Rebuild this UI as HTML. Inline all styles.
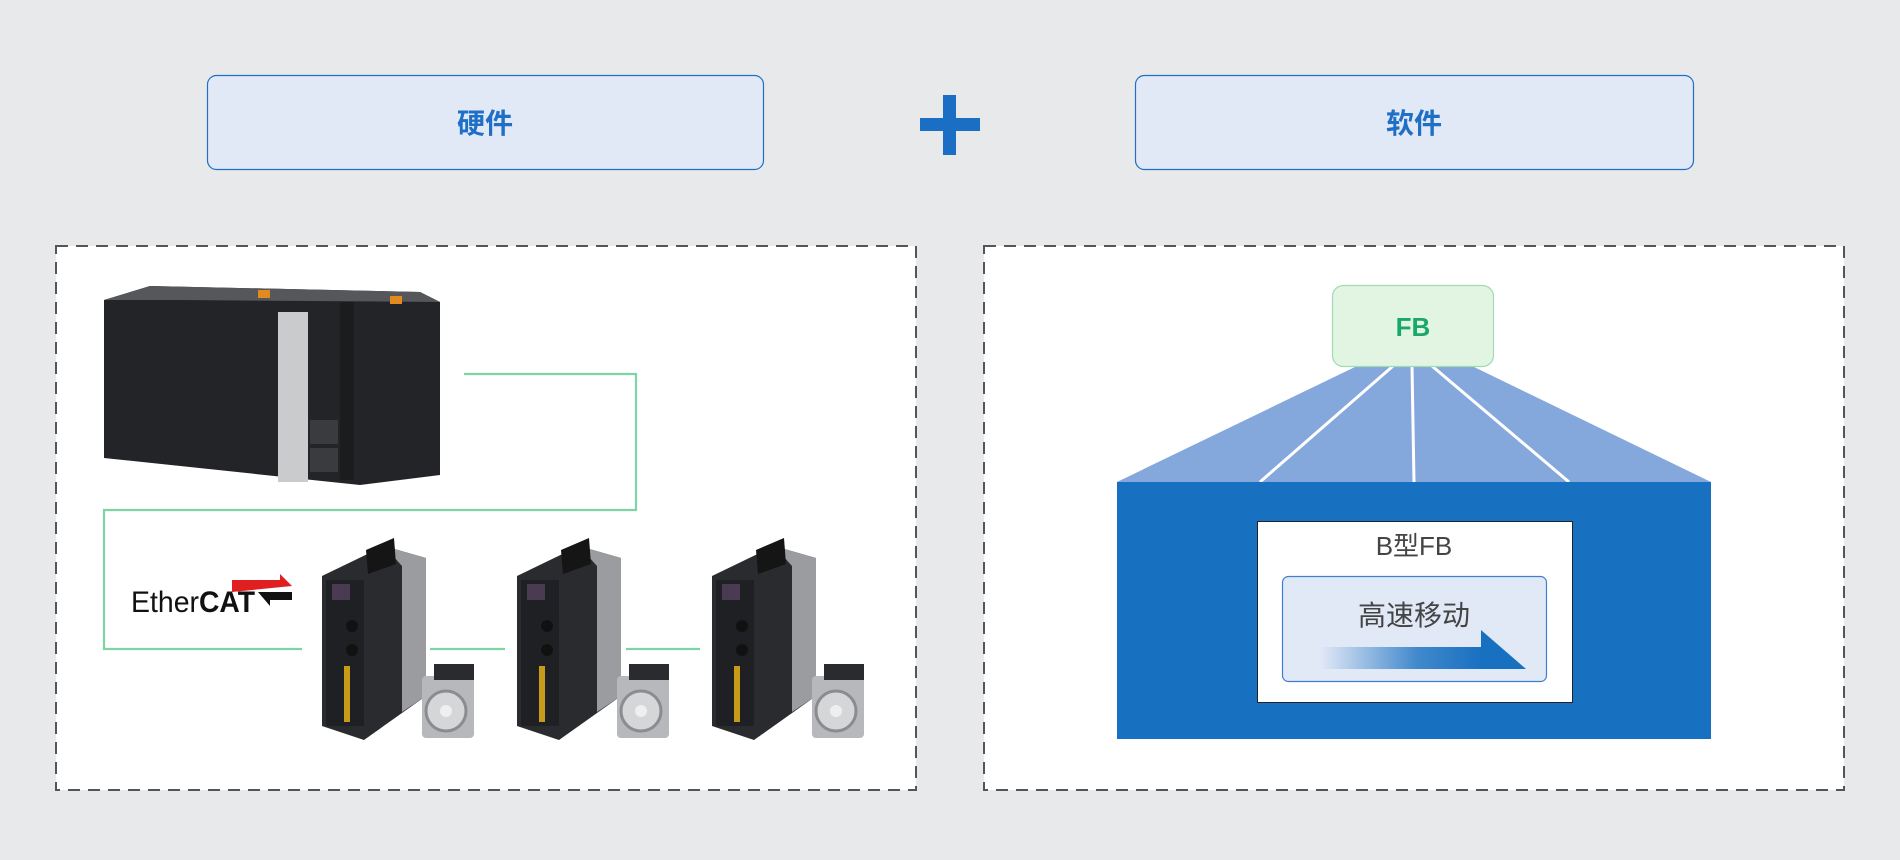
<!DOCTYPE html>
<html><head><meta charset="utf-8"><style>
html,body{margin:0;padding:0;background:#e8e9eb;}
svg{display:block}
text{font-family:"Liberation Sans","Noto Sans CJK SC",sans-serif}
</style></head><body>
<svg width="1900" height="860" viewBox="0 0 1900 860" xmlns="http://www.w3.org/2000/svg">
<defs>
<linearGradient id="ag" x1="0" x2="1" y1="0" y2="0">
<stop offset="0" stop-color="#1870c1" stop-opacity="0"/>
<stop offset="0.6" stop-color="#1870c1" stop-opacity="0.8"/>
<stop offset="1" stop-color="#1870c1"/>
</linearGradient>
<g id="drive">
<polygon points="0,30 62,0 104,12 104,150 42,194 0,180" fill="#2a2b2e"/>
<polygon points="62,0 104,12 104,150 80,166 80,20" fill="#9a9ca0"/>
<polygon points="44,4 72,-8 74,18 46,28" fill="#151515"/>
<rect x="4" y="34" width="38" height="146" fill="#1f2023"/>
<rect x="10" y="38" width="18" height="16" fill="#4a3a52"/>
<rect x="22" y="120" width="6" height="56" fill="#c89a1a"/>
<circle cx="30" cy="80" r="6" fill="#111"/>
<circle cx="30" cy="104" r="6" fill="#111"/>
<rect x="100" y="130" width="52" height="62" rx="4" fill="#b6b8bb"/>
<rect x="112" y="118" width="40" height="16" fill="#2a2b2e"/>
<circle cx="124" cy="165" r="20" fill="#d4d6d8" stroke="#8a8c90" stroke-width="3"/>
<circle cx="124" cy="165" r="6" fill="#efefef"/>
</g>
</defs>

<!-- top boxes -->
<rect x="207.5" y="75.5" width="556" height="94" rx="9" fill="#e1e8f6" stroke="#1e6fc5" stroke-width="1.2"/>
<text x="485" y="133" text-anchor="middle" font-size="28" font-weight="bold" fill="#1e6fc5">硬件</text>
<rect x="1135.5" y="75.5" width="558" height="94" rx="9" fill="#e1e8f6" stroke="#1e6fc5" stroke-width="1.2"/>
<text x="1414" y="133" text-anchor="middle" font-size="28" font-weight="bold" fill="#1e6fc5">软件</text>
<rect x="920" y="118" width="60" height="13" fill="#1a6fc4"/>
<rect x="943" y="95" width="13" height="60" fill="#1a6fc4"/>

<!-- dashed boxes -->
<rect x="56" y="246" width="860" height="544" fill="#fff" stroke="#555" stroke-width="2" stroke-dasharray="12,8"/>
<rect x="984" y="246" width="860" height="544" fill="#fff" stroke="#555" stroke-width="2" stroke-dasharray="12,8"/>

<!-- PLC -->
<polygon points="104,300 150,286 420,292 440,302 440,475 360,485 104,458" fill="#232427"/>
<polygon points="104,300 150,286 420,292 440,302 180,300" fill="#55575b"/>
<rect x="278" y="312" width="30" height="170" fill="#c9cbcc"/>
<rect x="340" y="302" width="14" height="178" fill="#1b1c1e"/>
<rect x="310" y="420" width="28" height="24" fill="#3a3b3e"/>
<rect x="310" y="448" width="28" height="24" fill="#3a3b3e"/>
<rect x="258" y="290" width="12" height="8" fill="#e08a20"/>
<rect x="390" y="296" width="12" height="8" fill="#e08a20"/>

<!-- green network lines -->
<polyline points="464,374 636,374 636,510 104,510 104,649 302,649" fill="none" stroke="#7fd4a6" stroke-width="2.2"/>
<line x1="430" y1="649" x2="505" y2="649" stroke="#7fd4a6" stroke-width="2.2"/>
<line x1="626" y1="649" x2="700" y2="649" stroke="#7fd4a6" stroke-width="2.2"/>

<!-- EtherCAT -->
<text x="131" y="612" font-size="30" fill="#111" textLength="68" lengthAdjust="spacingAndGlyphs">Ether</text>
<text x="199" y="612" font-size="30" font-weight="bold" fill="#111" textLength="56" lengthAdjust="spacingAndGlyphs">CAT</text>
<polygon points="232,580 280,580 280,574 292,586 232,592" fill="#e02020"/>
<polygon points="258,592 292,592 292,600 270,600 270,606" fill="#111"/>

<use href="#drive" x="322" y="546"/>
<use href="#drive" x="517" y="546"/>
<use href="#drive" x="712" y="546"/>

<!-- FB section -->
<polygon points="1357,366 1472,366 1711,482 1117,482" fill="#84a7dc"/>
<line x1="1393" y1="366" x2="1260" y2="482" stroke="#fff" stroke-width="3"/>
<line x1="1412" y1="366" x2="1414" y2="482" stroke="#fff" stroke-width="3"/>
<line x1="1432" y1="366" x2="1569" y2="482" stroke="#fff" stroke-width="3"/>
<rect x="1332.5" y="285.5" width="161" height="81" rx="11" fill="#e2f4e2" stroke="#9fdcaf" stroke-width="1.2"/>
<text x="1413" y="336" text-anchor="middle" font-size="26" font-weight="bold" fill="#1aa86a">FB</text>
<rect x="1117" y="482" width="594" height="257" fill="#1870c1"/>
<rect x="1257.5" y="521.5" width="315" height="181" fill="#fff" stroke="#222" stroke-width="1"/>
<text x="1414" y="555" text-anchor="middle" font-size="26" fill="#444">B型FB</text>
<rect x="1282.5" y="576.5" width="264" height="105" rx="6" fill="#e1e8f6" stroke="#3d7fd0" stroke-width="1.2"/>
<text x="1414" y="625" text-anchor="middle" font-size="28" fill="#444">高速移动</text>
<rect x="1321" y="647" width="162" height="22" fill="url(#ag)"/>
<polygon points="1481,630 1481,669 1526,669" fill="#1870c1"/>
</svg>
</body></html>
